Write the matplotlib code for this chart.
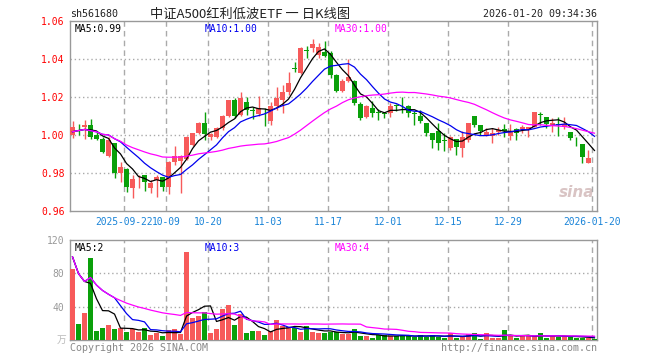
import numpy as np
import pandas as pd
import matplotlib
matplotlib.use("Agg")
import matplotlib.pyplot as plt

########### Daten ###########
opens = [1.0000, 1.0044, 1.0044, 1.0053, 1.0000, 0.9979, 0.9890, 0.9956, 0.9802, 0.9821,
         0.9719, 0.9772, 0.9790, 0.9719, 0.9763, 0.9777, 0.9728, 0.9860, 0.9862, 0.9872,
         0.9947, 1.0009, 1.0065, 0.9990, 0.9991, 1.0035, 1.0100, 1.0184, 1.0105, 1.0175,
         1.0130, 1.0111, 1.0097, 1.0076, 1.0155, 1.0184, 1.0228, 1.0352, 1.0325, 1.0446,
         1.0460, 1.0421, 1.0438, 1.0432, 1.0316, 1.0233, 1.0286, 1.0286, 1.0163, 1.0096,
         1.0140, 1.0121, 1.0113, 1.0114, 1.0155, 1.0137, 1.0153, 1.0113, 1.0100, 1.0062,
         1.0012, 1.0023, 0.9972, 0.9930, 0.9977, 0.9930, 0.9974, 1.0100, 1.0053, 1.0000,
         0.9995, 1.0014, 1.0030, 0.9995, 1.0030, 1.0030, 1.0030, 1.0044, 1.0110, 1.0093,
         1.0053, 1.0058, 1.0044, 1.0018, 0.9975, 0.9953, 0.9854, 0.9879]
highs = [1.0076, 1.0060, 1.0079, 1.0082, 1.0018, 0.9990, 0.9990, 0.9960, 0.9860, 0.9826,
         0.9790, 0.9790, 0.9792, 0.9765, 0.9790, 0.9780, 0.9862, 0.9942, 0.9895, 0.9995,
         1.0012, 1.0070, 1.0123, 1.0012, 1.0044, 1.0105, 1.0184, 1.0193, 1.0228, 1.0202,
         1.0146, 1.0207, 1.0140, 1.0175, 1.0254, 1.0263, 1.0333, 1.0386, 1.0465, 1.0468,
         1.0503, 1.0486, 1.0493, 1.0440, 1.0320, 1.0295, 1.0398, 1.0290, 1.0175, 1.0160,
         1.0181, 1.0135, 1.0123, 1.0167, 1.0163, 1.0198, 1.0158, 1.0125, 1.0130, 1.0062,
         1.0012, 1.0062, 1.0009, 0.9995, 0.9977, 1.0023, 1.0065, 1.0100, 1.0053, 1.0035,
         1.0035, 1.0040, 1.0060, 1.0058, 1.0035, 1.0053, 1.0044, 1.0119, 1.0123, 1.0093,
         1.0088, 1.0093, 1.0095, 1.0018, 0.9988, 0.9953, 0.9921, 0.9879]
lows = [0.9983, 1.0000, 0.9977, 0.9977, 0.9975, 0.9904, 0.9885, 0.9772, 0.9755, 0.9700,
        0.9667, 0.9719, 0.9703, 0.9696, 0.9675, 0.9703, 0.9690, 0.9842, 0.9697, 0.9868,
        0.9940, 1.0005, 0.9974, 0.9974, 0.9985, 1.0026, 1.0093, 1.0088, 1.0100, 1.0105,
        1.0083, 1.0100, 1.0049, 1.0053, 1.0130, 1.0118, 1.0212, 1.0333, 1.0320, 1.0403,
        1.0439, 1.0405, 1.0412, 1.0300, 1.0225, 1.0228, 1.0280, 1.0160, 1.0080, 1.0090,
        1.0093, 1.0078, 1.0088, 1.0093, 1.0125, 1.0114, 1.0093, 1.0053, 1.0065, 0.9995,
        0.9930, 0.9921, 0.9917, 0.9921, 0.9895, 0.9886, 0.9965, 1.0040, 1.0000, 0.9995,
        0.9960, 1.0000, 0.9990, 0.9974, 0.9974, 1.0009, 0.9990, 1.0040, 1.0053, 1.0035,
        1.0018, 0.9995, 1.0030, 0.9974, 0.9940, 0.9851, 0.9854, 0.9877]
closes = [1.0042, 1.0041, 1.0053, 0.9991, 0.9979, 0.9912, 0.9975, 0.9802, 0.9833, 0.9728,
          0.9768, 0.9776, 0.9754, 0.9749, 0.9777, 0.9728, 0.9860, 0.9890, 0.9892, 0.9991,
          1.0009, 1.0065, 1.0005, 1.0005, 1.0035, 1.0100, 1.0184, 1.0100, 1.0193, 1.0132,
          1.0127, 1.0140, 1.0093, 1.0155, 1.0193, 1.0228, 1.0275, 1.0349, 1.0460, 1.0443,
          1.0481, 1.0465, 1.0416, 1.0316, 1.0233, 1.0286, 1.0307, 1.0167, 1.0089, 1.0153,
          1.0114, 1.0118, 1.0111, 1.0153, 1.0153, 1.0135, 1.0114, 1.0111, 1.0076, 1.0012,
          0.9974, 0.9956, 0.9970, 0.9988, 0.9939, 0.9988, 1.0062, 1.0053, 1.0023, 1.0018,
          1.0012, 1.0026, 1.0021, 1.0018, 1.0012, 1.0044, 1.0044, 1.0119, 1.0107, 1.0058,
          1.0061, 1.0055, 1.0058, 0.9983, 0.9972, 0.9883, 0.9877, 0.9877]
# Volumen in 万
volumes = [85.2, 19.2, 32.8, 98.8, 11.2, 14.4, 18.0, 13.2, 14.4, 10.0,
           12.8, 10.0, 14.4, 6.0, 8.0, 4.8, 12.0, 13.2, 7.2, 106.0,
           26.8, 28.8, 34.0, 8.8, 12.8, 37.2, 42.0, 18.0, 31.2, 8.8,
           11.2, 11.2, 6.0, 11.2, 24.0, 16.8, 15.2, 14.0, 10.0, 16.8,
           10.0, 8.8, 8.8, 10.0, 10.0, 7.2, 7.2, 13.2, 4.8, 4.8,
           2.4, 6.0, 6.0, 4.8, 4.8, 4.8, 4.8, 4.0, 6.0, 4.0,
           6.0, 4.0, 2.4, 8.0, 2.4, 4.0, 7.2, 8.0, 1.6, 8.0,
           2.4, 2.4, 12.0, 4.8, 2.4, 4.8, 4.8, 4.8, 8.0, 2.4,
           4.8, 4.0, 4.8, 5.0, 2.4, 2.4, 2.0, 1.2]
# zwei Handelstage vor dem Ausschnitt (nur fuer die MA-Linien, aus deren Startwerten geschaetzt)
warmup_closes = [1.0000, 1.0010]
warmup_volumes = [110.0, 104.0]

tick_pos = [9, 16, 23, 33, 43, 53, 63, 73, 87]
tick_labels = ['2025-09-22', '10-09', '10-20', '11-03', '11-17',
               '12-01', '12-15', '12-29', '2026-01-20']
price_ticks = [0.96, 0.98, 1.00, 1.02, 1.04, 1.06]
vol_ticks = [40, 80, 120]

########### Stil ###########
RED = '#f75a5a'
GREEN = '#0aa00a'
GRID = '#aaaaaa'
BORDER = '#999999'
XBLUE = '#1a84d8'
MONO = 'DejaVu Sans Mono'
plt.rcParams['font.family'] = ['DejaVu Sans Mono', 'Noto Sans CJK SC']

df = pd.DataFrame({'open': opens, 'high': highs, 'low': lows,
                   'close': closes, 'vol': volumes})
n_warm = len(warmup_closes)
all_close = pd.Series(warmup_closes + closes)
all_vol = pd.Series(warmup_volumes + volumes)
for n in [5, 10, 30]:
    df['ma%d' % n] = all_close.rolling(n, min_periods=1).mean().values[n_warm:]
    df['vma%d' % n] = all_vol.rolling(n, min_periods=1).mean().values[n_warm:]

x = np.arange(len(df))
up = df['close'] >= df['open']
colors = [RED if u else GREEN for u in up]

fig = plt.figure(figsize=(6.6, 3.6), dpi=100)
ax = fig.add_axes([70/660, 1-211/360, 527/660, 190/360])
axv = fig.add_axes([70/660, 1-340/360, 527/660, 100/360])

grid_x = [p - 0.42 for p in tick_pos]

# Kerzen
body_bot = np.minimum(df['open'], df['close'])
body_h = np.maximum(np.abs(df['close'] - df['open']), 0.0003)
ax.vlines(x, df['low'], df['high'], colors=colors, lw=1, zorder=3)
ax.bar(x, body_h, bottom=body_bot, width=0.8, color=colors, lw=0, zorder=4)
ax.plot(x, df['ma5'], color='black', lw=0.9, zorder=5)
ax.plot(x, df['ma10'], color='#0000ee', lw=0.9, zorder=5)
ax.plot(x, df['ma30'], color='#ff00ff', lw=0.9, zorder=5)

ax.set_xlim(-0.42, 87.42)
ax.set_ylim(0.96, 1.06)
ax.set_yticks(price_ticks)
ax.set_yticklabels(['%.2f' % t for t in price_ticks], color='red',
                   fontsize=7, family=MONO)
ax.set_xticks(grid_x)
ax.set_xticklabels(tick_labels, color=XBLUE, fontsize=6.9, family=MONO)
ax.tick_params(length=0, pad=4)
for t in price_ticks[1:-1]:
    ax.axhline(t, color=GRID, lw=1, ls=(0, (1, 2)), zorder=1)
for g in grid_x:
    ax.axvline(g, color=GRID, lw=1, ls=(0, (4, 3)), zorder=1)

# Volumen
axv.bar(x, df['vol'], width=0.8, color=colors, lw=0, zorder=3)
axv.plot(x, df['vma5'], color='black', lw=0.9, zorder=5)
axv.plot(x, df['vma10'], color='#0000ee', lw=0.9, zorder=5)
axv.plot(x, df['vma30'], color='#ff00ff', lw=0.9, zorder=5)
axv.set_xlim(-0.42, 87.42)
axv.set_ylim(0, 120)
axv.set_yticks(vol_ticks)
axv.set_yticklabels([str(v) for v in vol_ticks], color='#999999',
                    fontsize=7, family=MONO)
axv.set_xticks([])
axv.tick_params(length=0, pad=4)
for t in vol_ticks[:-1]:
    axv.axhline(t, color=GRID, lw=1, ls=(0, (1, 2)), zorder=1)
for g in grid_x:
    axv.axvline(g, color=GRID, lw=1, ls=(0, (4, 3)), zorder=1)

for a in (ax, axv):
    for s in a.spines.values():
        s.set_color(BORDER)
        s.set_linewidth(1)

# Legenden
last = df.iloc[-1]
ax.text(0.009, 0.985, 'MA5:%.2f' % last['ma5'], transform=ax.transAxes,
        color='black', fontsize=7, va='top', family=MONO)
ax.text(0.255, 0.985, 'MA10:%.2f' % last['ma10'], transform=ax.transAxes,
        color='#0000ee', fontsize=7, va='top', family=MONO)
ax.text(0.503, 0.985, 'MA30:%.2f' % last['ma30'], transform=ax.transAxes,
        color='#ff00ff', fontsize=7, va='top', family=MONO)
axv.text(0.009, 0.97, 'MA5:%d' % int(last['vma5']), transform=axv.transAxes,
         color='black', fontsize=7, va='top', family=MONO)
axv.text(0.255, 0.97, 'MA10:%d' % int(last['vma10']), transform=axv.transAxes,
         color='#0000ee', fontsize=7, va='top', family=MONO)
axv.text(0.503, 0.97, 'MA30:%d' % int(last['vma30']), transform=axv.transAxes,
         color='#ff00ff', fontsize=7, va='top', family=MONO)

# Kopfzeile
fig.text(70/660, 1-14/360, 'sh561680', fontsize=7.2, va='center',
         color='#222222', family=MONO)
fig.text(150/660, 1-14/360, '中证A500红利低波ETF 一 日K线图', fontsize=9.5,
         va='center', color='#222222', family=['Noto Sans CJK SC', 'DejaVu Sans'])
fig.text(597/660, 1-14/360, '2026-01-20 09:34:36', fontsize=7.2, va='center',
         ha='right', color='#222222', family=MONO)

# Fusszeile
fig.text(70/660, 1-348/360, 'Copyright 2026 SINA.COM', fontsize=7.2,
         va='center', color='#888888', family=MONO)
fig.text(597/660, 1-348/360, 'http://finance.sina.com.cn', fontsize=7.2,
         va='center', ha='right', color='#888888', family=MONO)
fig.text(66/660, 1-340/360, '万', fontsize=7, va='center', ha='right',
         color='#bbbbbb', family=['Noto Sans CJK SC', 'DejaVu Sans'])

# sina Wasserzeichen
ax.text(0.995, 0.06, 'sina', transform=ax.transAxes, fontsize=11,
        fontweight='bold', style='italic', color='#d9c4c4', ha='right',
        va='bottom', family='DejaVu Sans', zorder=0)

fig.savefig('out.png', dpi=100)
